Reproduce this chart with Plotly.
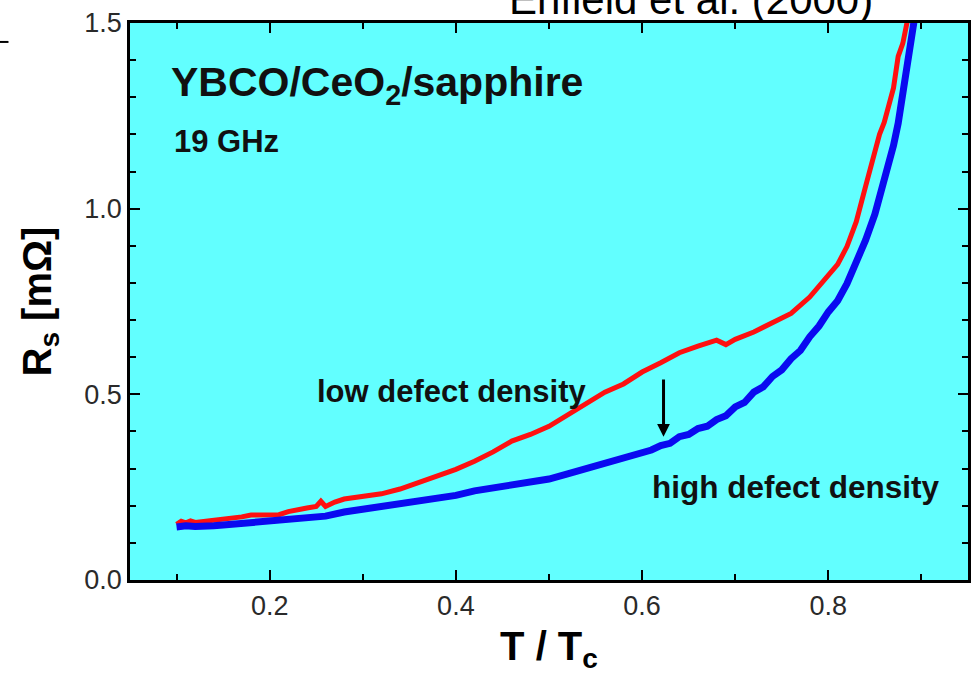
import plotly.graph_objects as go

# ---------------- data ----------------
t_low = [0.100, 0.105, 0.110, 0.115, 0.120, 0.130, 0.140, 0.150, 0.160, 0.170,
         0.180, 0.190, 0.200, 0.210, 0.220, 0.230, 0.240, 0.250, 0.255, 0.260,
         0.270, 0.280, 0.290, 0.300, 0.320, 0.340, 0.360, 0.380, 0.400, 0.420,
         0.440, 0.460, 0.480, 0.500, 0.520, 0.540, 0.560, 0.580, 0.600, 0.620,
         0.640, 0.660, 0.680, 0.690, 0.700, 0.720, 0.740, 0.760, 0.780, 0.800,
         0.810, 0.820, 0.830, 0.840, 0.850, 0.855, 0.860, 0.870, 0.875, 0.880,
         0.886]
rs_low = [0.150, 0.158, 0.154, 0.159, 0.155, 0.158, 0.160, 0.162, 0.166, 0.170,
          0.175, 0.176, 0.178, 0.176, 0.184, 0.190, 0.194, 0.198, 0.212, 0.198,
          0.210, 0.218, 0.222, 0.224, 0.232, 0.245, 0.262, 0.278, 0.298, 0.320,
          0.345, 0.374, 0.392, 0.414, 0.445, 0.474, 0.506, 0.528, 0.560, 0.585,
          0.612, 0.630, 0.646, 0.634, 0.648, 0.668, 0.692, 0.718, 0.762, 0.820,
          0.850, 0.898, 0.965, 1.060, 1.160, 1.200, 1.232, 1.325, 1.410, 1.445,
          1.520]

t_high = [0.100, 0.110, 0.120, 0.130, 0.140, 0.150, 0.160, 0.170, 0.180, 0.190,
          0.200, 0.220, 0.240, 0.260, 0.280, 0.300, 0.320, 0.340, 0.360, 0.380,
          0.400, 0.420, 0.440, 0.460, 0.480, 0.500, 0.520, 0.540, 0.560, 0.580,
          0.600, 0.610, 0.620, 0.630, 0.640, 0.650, 0.660, 0.670, 0.680, 0.690,
          0.700, 0.710, 0.720, 0.730, 0.740, 0.750, 0.760, 0.770, 0.780, 0.790,
          0.800, 0.810, 0.820, 0.830, 0.840, 0.850, 0.860, 0.865, 0.870, 0.875,
          0.880, 0.885, 0.890, 0.893]
rs_high = [0.143, 0.146, 0.144, 0.147, 0.146, 0.148, 0.150, 0.151, 0.153, 0.154,
           0.156, 0.160, 0.165, 0.172, 0.183, 0.190, 0.196, 0.204, 0.212, 0.220,
           0.228, 0.240, 0.248, 0.256, 0.264, 0.272, 0.286, 0.300, 0.316, 0.330,
           0.346, 0.350, 0.362, 0.368, 0.386, 0.392, 0.408, 0.414, 0.432, 0.442,
           0.466, 0.478, 0.506, 0.520, 0.548, 0.566, 0.596, 0.618, 0.655, 0.684,
           0.722, 0.752, 0.798, 0.855, 0.915, 0.985, 1.070, 1.124, 1.170, 1.230,
           1.310, 1.400, 1.475, 1.520]

x_ticks = [0.2, 0.4, 0.6, 0.8]
x_tick_labels = ["0.2", "0.4", "0.6", "0.8"]
y_ticks = [0.0, 0.5, 1.0, 1.5]
y_tick_labels = ["0.0", "0.5", "1.0", "1.5"]
x_range = [0.05, 0.95]
y_range = [0.0, 1.5]

FONT = "Liberation Sans, Arial, Helvetica, sans-serif"

fig = go.Figure()
fig.add_trace(go.Scatter(x=t_low, y=rs_low, mode="lines",
                         line=dict(color="#ff1010", width=5), showlegend=False))
fig.add_trace(go.Scatter(x=t_high, y=rs_high, mode="lines",
                         line=dict(color="#0a0af0", width=7), showlegend=False))

minor = dict(tickmode="linear", dtick=0.1, tick0=0.0, ticks="inside",
             ticklen=6, tickwidth=2, tickcolor="black")
tfont = dict(family=FONT, size=27, color="#2a2a2a")

fig.update_layout(
    xaxis=dict(
        range=x_range, tickmode="array", tickvals=x_ticks, ticktext=x_tick_labels,
        ticks="inside", ticklen=10, tickwidth=2, tickcolor="black",
        showline=True, linecolor="black", linewidth=2.5, mirror="ticks",
        showgrid=False, zeroline=False, automargin=False,
        minor=minor, tickfont=tfont,
        title=dict(text="<b>T / T<sub>c</sub></b>",
                   font=dict(family=FONT, size=40, color="black"), standoff=12),
    ),
    yaxis=dict(
        range=y_range, tickmode="array", tickvals=y_ticks, ticktext=y_tick_labels,
        ticks="inside", ticklen=10, tickwidth=2, tickcolor="black",
        showline=True, linecolor="black", linewidth=2.5, mirror="ticks",
        showgrid=False, zeroline=False, automargin=False,
        minor=minor, tickfont=tfont,
    ),
)

# y-axis title placed as rotated text left of the tick labels
fig.add_annotation(x=(39 - 130) / 838, y=0.5, xref="paper", yref="paper",
                   text="<b>R<sub>s</sub> [mΩ]</b>", textangle=-90, showarrow=False,
                   xanchor="center", yanchor="middle",
                   font=dict(family=FONT, size=40, color="black"))

fig.add_annotation(x=0.092, y=1.333, xref="x", yref="y", xanchor="left", yanchor="middle",
                   text="<b>YBCO/CeO<sub>2</sub>/sapphire</b>", showarrow=False,
                   font=dict(family=FONT, size=41, color="#111"))
fig.add_annotation(x=0.095, y=1.18, xref="x", yref="y", xanchor="left", yanchor="middle",
                   text="<b>19 GHz</b>", showarrow=False,
                   font=dict(family=FONT, size=31, color="#111"))
fig.add_annotation(x=0.249, y=0.507, xref="x", yref="y", xanchor="left", yanchor="middle",
                   text="<b>low defect density</b>", showarrow=False,
                   font=dict(family=FONT, size=31, color="#111"))
fig.add_annotation(x=0.609, y=0.25, xref="x", yref="y", xanchor="left", yanchor="middle",
                   text="<b>high defect density</b>", showarrow=False,
                   font=dict(family=FONT, size=31.5, color="#111"))
# arrow
fig.add_annotation(x=0.623, y=0.386, ax=0.623, ay=0.544, xref="x", yref="y",
                   axref="x", ayref="y", text="", showarrow=True,
                   arrowhead=2, arrowsize=0.85, arrowwidth=3, arrowcolor="black")
# header (partially cut off at top)
fig.add_annotation(x=(691 - 130) / 838, y=1.043, xref="paper", yref="paper",
                   text="Enfield et al. (2000)",
                   showarrow=False, xanchor="center", yanchor="middle",
                   font=dict(family=FONT, size=42, color="black"))

fig.add_shape(type="line", xref="paper", yref="paper",
              x0=-0.156, x1=-0.145, y0=0.966, y1=0.966,
              line=dict(color="black", width=2))

fig.update_layout(
    width=973, height=676,
    margin=dict(l=130, r=5, t=23, b=96, autoexpand=False),
    plot_bgcolor="#62ffff", paper_bgcolor="white",
    font=dict(family=FONT),
)

fig.write_html("out.html", config={"displayModeBar": False},
               post_script="document.body.style.margin='0px';")
